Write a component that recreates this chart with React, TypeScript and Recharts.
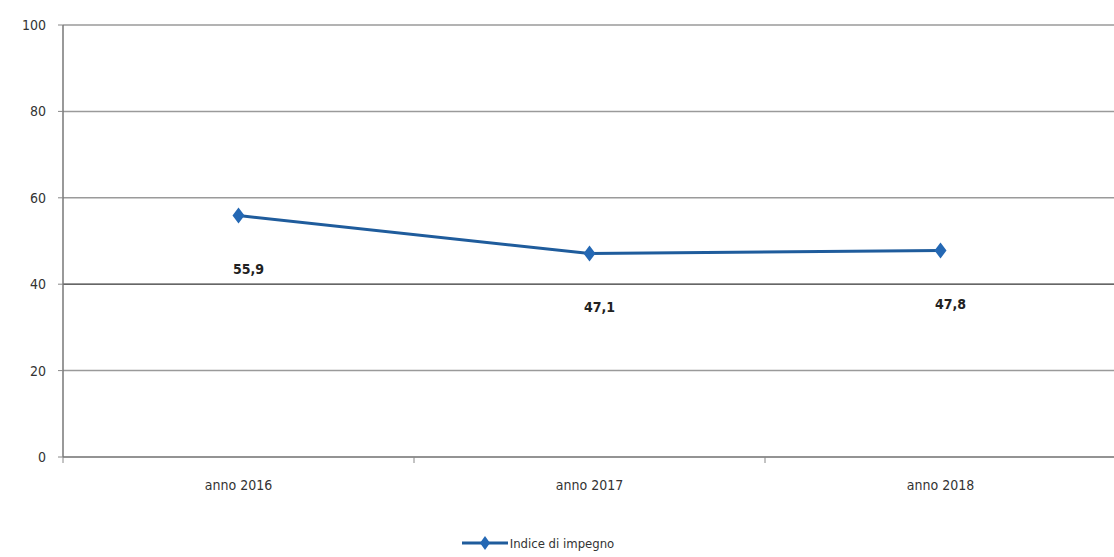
import React from 'react';
import { LineChart, Line, XAxis, YAxis, CartesianGrid, Legend, LabelList, ReferenceLine } from 'recharts';

const categories = ['anno 2016', 'anno 2017', 'anno 2018'];
const values = [55.9, 47.1, 47.8];
const yTicks = [0, 20, 40, 60, 80, 100];
const seriesName = 'Indice di impegno';

const data = categories.map((c, i) => ({ x: i, name: c, value: values[i] }));

const LINE = '#1f5c9c';
const MARK = '#2468b4';
const FONT = '"Liberation Sans Narrow", "DejaVu Sans Condensed", "Liberation Sans", sans-serif';

const Diamond = (props: any) => {
    const { cx, cy } = props;
    if (cx == null || cy == null) return null;
    return <polygon points={`${cx},${cy - 8} ${cx + 6},${cy} ${cx},${cy + 8} ${cx - 6},${cy}`} fill={MARK} />;
};

const XTick = (props: any) => {
    const { x, y, payload } = props;
    const v = payload.value;
    if (Number.isInteger(v)) {
        return (
            <text x={x} y={y + 25} textAnchor="middle" fontSize={14} fill="#333" fontFamily={FONT}>
                {categories[v]}
            </text>
        );
    }
    return <line x1={x} y1={y - 8} x2={x} y2={y - 2} stroke="#888" />;
};

const ValueLabel = (props: any) => {
    const { x, y, value } = props;
    return (
        <text x={x + 10} y={y + 58} textAnchor="middle" fontSize={14} fill="#222" fontFamily={FONT} fontWeight="bold">
            {String(value).replace('.', ',')}
        </text>
    );
};

const LegendContent = () => (
    <div style={{ display: 'flex', justifyContent: 'center', alignItems: 'center', fontFamily: FONT, fontSize: 13, color: '#333', paddingRight: 40 }}>
        <svg width={46} height={16}>
            <line x1={0} y1={8} x2={46} y2={8} stroke={LINE} strokeWidth={3} />
            <polygon points="23,1 28,8 23,15 18,8" fill={MARK} />
        </svg>
        <span style={{ marginLeft: 2 }}>{seriesName}</span>
    </div>
);

export default function App() {
    return (
        <div style={{ position: 'absolute', left: 0, top: 0, width: 1114, height: 557, background: '#fff' }}>
            <LineChart width={1114} height={557} data={data} margin={{ top: 25, right: -2, left: 0, bottom: 0 }}>
                <CartesianGrid horizontal vertical={false} stroke="#9a9a9a" strokeWidth={1.5} />
                <XAxis
                    dataKey="x"
                    type="number"
                    domain={[-0.5, 2.5]}
                    ticks={[-0.5, 0, 0.5, 1, 1.5, 2, 2.5]}
                    tick={<XTick />}
                    tickLine={false}
                    axisLine={{ stroke: '#888', strokeWidth: 1.5 }}
                    height={78}
                    interval={0}
                />
                <YAxis
                    domain={[0, 100]}
                    ticks={yTicks}
                    width={63}
                    tickSize={5}
                    tickLine={{ stroke: '#888' }}
                    axisLine={{ stroke: '#777', strokeWidth: 1.5 }}
                    tick={{ fontSize: 14, fill: '#333', fontFamily: FONT }}
                    tickMargin={12}
                />
                <ReferenceLine y={40} stroke="#666" strokeWidth={1.5} />
                <Legend content={<LegendContent />} verticalAlign="bottom" height={22} />
                <Line
                    dataKey="value"
                    name={seriesName}
                    stroke={LINE}
                    strokeWidth={3}
                    dot={<Diamond />}
                    activeDot={false}
                    isAnimationActive={false}
                >
                    <LabelList dataKey="value" content={<ValueLabel />} />
                </Line>
            </LineChart>
        </div>
    );
}
